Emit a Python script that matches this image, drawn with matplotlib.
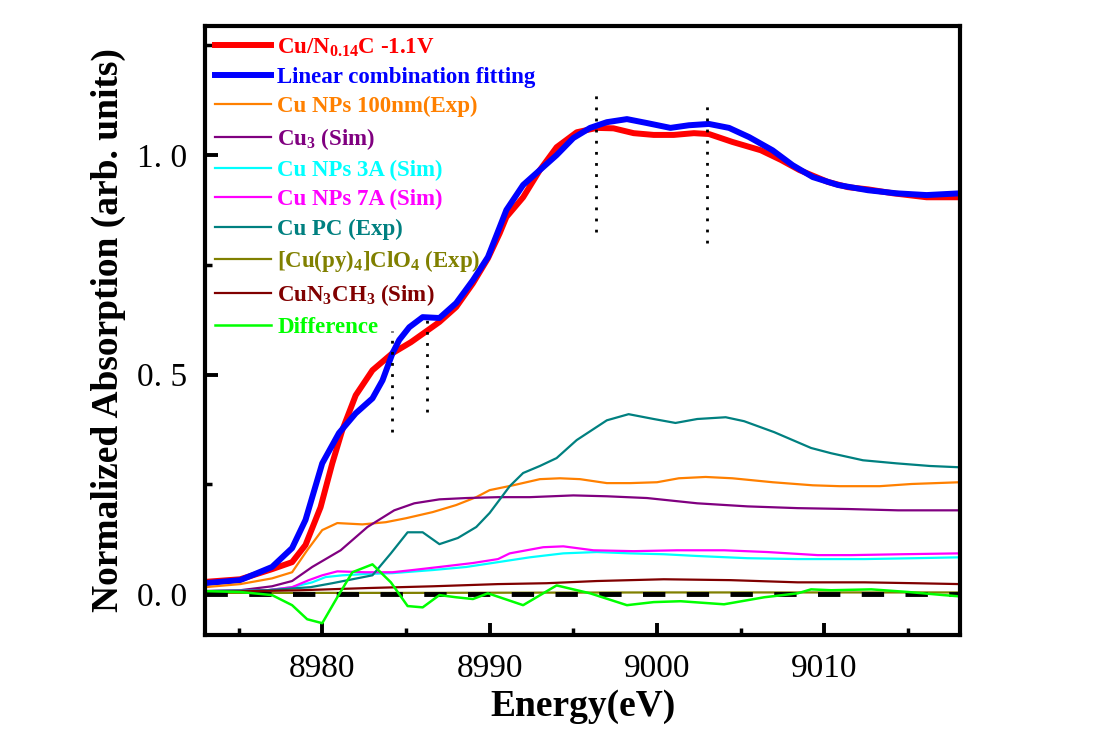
import matplotlib
matplotlib.use("Agg")
import matplotlib.pyplot as plt
from matplotlib.ticker import MultipleLocator

plt.rcParams['font.family'] = 'Liberation Serif'
plt.rcParams['mathtext.fontset'] = 'custom'
plt.rcParams['mathtext.rm'] = 'Liberation Serif:bold'
plt.rcParams['mathtext.bf'] = 'Liberation Serif:bold'
plt.rcParams['mathtext.it'] = 'Liberation Serif:bold'

# Cu/N0.14C -1.1V (measured)
red_E = [8973.0, 8975.1, 8977.0, 8978.2, 8979.0, 8979.9, 8980.6, 8981.2, 8982.0, 8983.0,
         8984.2, 8985.3, 8986.3, 8987.0, 8988.0, 8989.0, 8989.9, 8990.6, 8991.0, 8992.0,
         8993.0, 8994.0, 8995.2, 8996.4, 8997.4, 8998.6, 8999.8, 9001.0, 9002.2, 9003.1,
         9004.5, 9006.2, 9007.4, 9008.5, 9010.2, 9011.4, 9012.6, 9014.1, 9016.1, 9018.1]
red_y = [0.028, 0.034, 0.057, 0.073, 0.112, 0.198, 0.298, 0.374, 0.453, 0.510,
         0.549, 0.574, 0.601, 0.620, 0.654, 0.708, 0.765, 0.822, 0.859, 0.904,
         0.966, 1.018, 1.052, 1.062, 1.061, 1.050, 1.046, 1.046, 1.050, 1.048,
         1.030, 1.011, 0.989, 0.966, 0.939, 0.927, 0.922, 0.913, 0.904, 0.904]

# linear combination fitting
blue_E = [8973.0, 8975.1, 8977.0, 8978.2, 8979.0, 8980.0, 8981.0, 8982.0, 8983.0, 8983.6,
          8984.2, 8984.6, 8985.2, 8986.0, 8987.0, 8988.0, 8989.0, 8989.9, 8990.6, 8991.0,
          8992.0, 8993.0, 8994.0, 8995.0, 8996.0, 8997.0, 8998.2, 8999.4, 9000.8, 9001.9,
          9003.1, 9004.3, 9005.5, 9006.9, 9008.1, 9009.3, 9010.8, 9012.6, 9014.3, 9016.1, 9018.1]
blue_y = [0.025, 0.032, 0.062, 0.105, 0.169, 0.298, 0.367, 0.412, 0.446, 0.487,
          0.549, 0.579, 0.608, 0.631, 0.629, 0.663, 0.715, 0.768, 0.836, 0.875,
          0.932, 0.966, 1.000, 1.039, 1.062, 1.075, 1.082, 1.073, 1.062, 1.068,
          1.071, 1.062, 1.041, 1.011, 0.977, 0.950, 0.932, 0.920, 0.913, 0.909, 0.913]

# Cu NPs 100nm (Exp)
orange_E = [8973.0, 8975.1, 8977.0, 8978.2, 8979.1, 8980.0, 8980.9, 8982.4, 8983.8, 8985.0,
            8986.6, 8988.0, 8989.2, 8990.0, 8991.4, 8993.0, 8994.2, 8995.4, 8997.0, 8998.4,
            9000.0, 9001.3, 9002.9, 9004.5, 9006.9, 9009.3, 9010.9, 9013.3, 9015.2, 9018.1]
orange_y = [0.016, 0.023, 0.036, 0.050, 0.100, 0.146, 0.162, 0.159, 0.164, 0.173,
            0.187, 0.203, 0.221, 0.237, 0.248, 0.262, 0.264, 0.262, 0.253, 0.253,
            0.255, 0.264, 0.267, 0.264, 0.255, 0.248, 0.246, 0.246, 0.251, 0.255]

# Cu3 (Sim)
purple_E = [8973.0, 8975.1, 8977.0, 8978.2, 8979.4, 8981.1, 8982.7, 8984.3, 8985.5, 8987.0,
            8988.6, 8990.5, 8992.4, 8995.0, 8997.0, 8999.4, 9002.4, 9005.4, 9008.4, 9011.4,
            9014.4, 9018.1]
purple_y = [0.007, 0.009, 0.018, 0.030, 0.062, 0.100, 0.153, 0.191, 0.207, 0.216,
            0.219, 0.221, 0.221, 0.225, 0.223, 0.219, 0.207, 0.200, 0.196, 0.194,
            0.191, 0.191]

# Cu NPs 3A (Sim)
cyan_E = [8973.0, 8976.7, 8978.2, 8979.4, 8980.2, 8981.2, 8982.6, 8984.2, 8986.6, 8988.6,
          8990.5, 8992.4, 8994.4, 8996.4, 8998.4, 9000.4, 9002.4, 9005.4, 9008.4, 9012.4,
          9015.4, 9018.1]
cyan_y = [0.007, 0.009, 0.016, 0.027, 0.039, 0.043, 0.046, 0.048, 0.055, 0.062,
          0.073, 0.084, 0.093, 0.096, 0.093, 0.091, 0.087, 0.082, 0.080, 0.080,
          0.082, 0.084]

# Cu NPs 7A (Sim)
magenta_E = [8973.0, 8976.7, 8978.2, 8979.2, 8980.0, 8980.9, 8982.6, 8984.2, 8985.4, 8987.0,
             8989.0, 8990.5, 8991.2, 8993.2, 8994.4, 8996.2, 8998.6, 9001.2, 9004.0, 9006.6,
             9009.6, 9011.6, 9014.6, 9018.1]
magenta_y = [0.007, 0.009, 0.016, 0.032, 0.043, 0.052, 0.050, 0.050, 0.055, 0.062,
             0.071, 0.080, 0.093, 0.107, 0.109, 0.100, 0.098, 0.100, 0.100, 0.096,
             0.089, 0.089, 0.091, 0.093]

# Cu PC (Exp)
teal_E = [8973.0, 8976.7, 8979.3, 8980.6, 8981.8, 8983.0, 8984.1, 8985.1, 8986.0, 8987.0,
          8988.1, 8989.2, 8990.0, 8991.2, 8992.0, 8993.0, 8994.0, 8995.2, 8997.0, 8998.3,
          8999.8, 9001.1, 9002.4, 9004.1, 9005.2, 9007.0, 9009.2, 9010.4, 9012.3, 9014.3,
          9016.3, 9018.1]
teal_y = [0.007, 0.009, 0.016, 0.025, 0.034, 0.043, 0.093, 0.141, 0.141, 0.114,
          0.128, 0.153, 0.185, 0.246, 0.276, 0.292, 0.310, 0.351, 0.396, 0.410,
          0.399, 0.390, 0.399, 0.403, 0.394, 0.369, 0.333, 0.321, 0.305, 0.298,
          0.292, 0.289]

# [Cu(py)4]ClO4 (Exp)
olive_E = [8973.0, 8985.0, 9000.0, 9018.1]
olive_y = [0.003, 0.003, 0.004, 0.004]

# CuN3CH3 (Sim)
darkred_E = [8973.0, 8978.7, 8982.7, 8986.6, 8990.5, 8993.4, 8996.4, 9000.4, 9004.4, 9008.4,
             9012.4, 9015.4, 9018.1]
darkred_y = [0.005, 0.009, 0.014, 0.018, 0.023, 0.025, 0.030, 0.034, 0.032, 0.027,
             0.027, 0.025, 0.023]

# Difference
green_E = [8973.0, 8975.1, 8977.0, 8978.2, 8979.1, 8980.0, 8980.9, 8981.8, 8983.0, 8984.1,
           8985.1, 8986.0, 8987.0, 8988.0, 8989.0, 8989.9, 8990.6, 8992.0, 8994.0, 8996.0,
           8998.2, 8999.8, 9001.4, 9004.0, 9006.4, 9008.4, 9009.2, 9010.4, 9012.8, 9015.0,
           9017.1, 9018.1]
green_y = [0.007, 0.005, -0.002, -0.025, -0.057, -0.066, -0.007, 0.050, 0.068, 0.027,
           -0.027, -0.030, -0.002, -0.007, -0.011, 0.002, -0.007, -0.025, 0.020, 0.002,
           -0.025, -0.018, -0.016, -0.023, -0.007, 0.002, 0.011, 0.009, 0.011, 0.005,
           -0.002, -0.005]

# dotted guide lines
guide_E = [8984.15, 8986.24, 8996.36, 9003.0]
guide_lo = [0.369, 0.415, 0.826, 0.800]
guide_hi = [0.599, 0.642, 1.142, 1.121]

fig = plt.figure(figsize=(11, 7.29), dpi=100)
ax = fig.add_axes([0.1864, 0.1289, 0.6864, 0.8354])

ax.plot(red_E, red_y, color='#ff0000', lw=4.3, label=r'Cu/N$_{0.14}$C -1.1V')
ax.plot(blue_E, blue_y, color='#0000ff', lw=4.3, label='Linear combination fitting')
ax.plot(orange_E, orange_y, color='#ff8000', lw=1.6, label='Cu NPs 100nm(Exp)')
ax.plot(purple_E, purple_y, color='#800080', lw=1.6, label=r'Cu$_3$ (Sim)')
ax.plot(cyan_E, cyan_y, color='#00ffff', lw=1.6, label='Cu NPs 3A (Sim)')
ax.plot(magenta_E, magenta_y, color='#ff00ff', lw=1.6, label='Cu NPs 7A (Sim)')
ax.plot(teal_E, teal_y, color='#008080', lw=1.6, label='Cu PC (Exp)')
ax.plot(olive_E, olive_y, color='#808000', lw=1.6, label=r'[Cu(py)$_4$]ClO$_4$ (Exp)')
ax.plot(darkred_E, darkred_y, color='#800000', lw=1.6, label=r'CuN$_3$CH$_3$ (Sim)')
ax.axhline(0, color='black', lw=3.5, ls=(0, (4.6, 4.4)), zorder=2.1)
ax.plot(green_E, green_y, color='#00ff00', lw=1.8, label='Difference', zorder=2.2)
ax.vlines(guide_E, guide_lo, guide_hi, colors='black', lw=2, linestyles=(0, (1, 3)))

ax.set_xlim(8973.0, 9018.1)
ax.set_ylim(-0.093, 1.294)
ax.xaxis.set_major_locator(MultipleLocator(10))
ax.xaxis.set_minor_locator(MultipleLocator(5))
ax.set_yticks([0.0, 0.5, 1.0])
ax.set_yticklabels(['0. 0', '0. 5', '1. 0'])
ax.yaxis.set_minor_locator(MultipleLocator(0.25))
ax.tick_params(which='both', direction='in', top=False, right=False, labelsize=24)
ax.tick_params(which='major', length=9, width=2.8, pad=13)
ax.tick_params(which='minor', length=5, width=2.5)
for s in ax.spines.values():
    s.set_linewidth(3)

ax.set_xlabel('Energy(eV)', fontsize=27, fontweight='bold', labelpad=4)
ax.set_ylabel('Normalized Absorption (arb. units)', fontsize=27, fontweight='bold', labelpad=8)

leg = ax.legend(loc='upper left', frameon=False, prop={'weight': 'bold', 'size': 16.5},
                labelcolor='linecolor', handlelength=2.45, handletextpad=0.25,
                labelspacing=0.36, borderaxespad=0.15, borderpad=0.3)

fig.savefig('out.png', dpi=100)
